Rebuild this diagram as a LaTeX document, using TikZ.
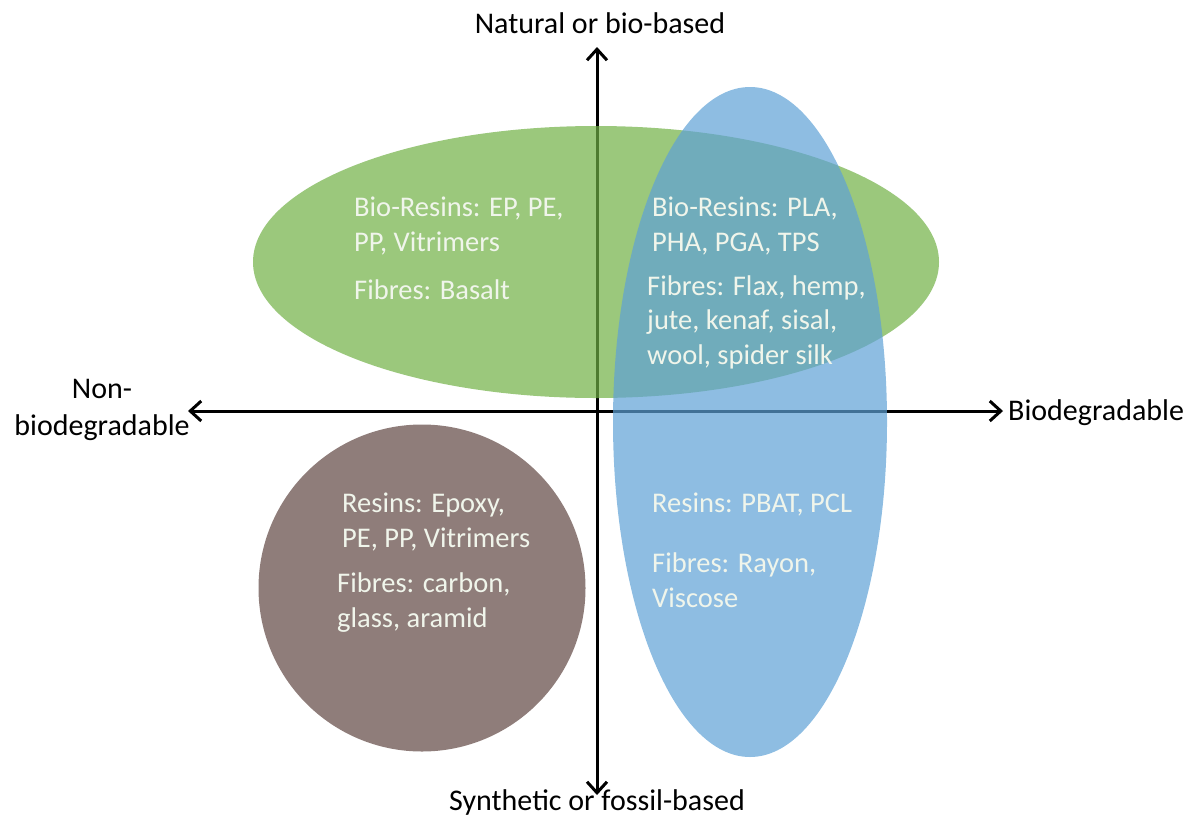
\documentclass[tikz,border=0pt]{standalone}
\usepackage{fontspec}
\setmainfont{Carlito}
\usetikzlibrary{arrows.meta, shapes.geometric}
\definecolor{biogreen}{RGB}{112,176,69}
\definecolor{degblue}{RGB}{94,161,214}
\definecolor{fossilbrown}{RGB}{143,125,122}
\definecolor{blobtext}{RGB}{240,245,235}

\begin{document}
\begin{tikzpicture}[x=1pt, y=-1pt,
    every node/.style={font=\fontsize{28.5}{34.5}\selectfont},
    axis/.style={{Straight Barb[length=11pt,width=20pt]}-{Straight Barb[length=11pt,width=20pt]}, line width=3pt},
    blob/.style={ellipse, draw=none, inner sep=0pt, fill opacity=0.7},
    inside/.style={anchor=base west, align=left, text=blobtext, inner sep=0pt},
    axislabel/.style={inner sep=0pt, text=black, font=\fontsize{30}{37}\selectfont}
]
\useasboundingbox (0,0) rectangle (1190,825);

% axes
\coordinate (north) at (597,47);
\coordinate (south) at (597,795);
\coordinate (west) at (188,411);
\coordinate (east) at (1003,411);
\draw[axis] (south) -- (north);
\draw[axis] (west) -- (east);

% regions
\node[blob, fill=biogreen, minimum width=686pt, minimum height=272pt] (natural) at (596,262) {};
\node[blob, fill=degblue, minimum width=274pt, minimum height=670pt] (biodeg) at (750,422) {};
\node[circle, fill=fossilbrown, draw=none, inner sep=0pt, minimum size=327pt] (fossil) at (422,588) {};

% axis labels (multi-line nodes sit on their last baseline)
\node[axislabel, anchor=base] (toplabel) at (600,33) {Natural or bio-based};
\node[axislabel, anchor=base] (bottomlabel) at (597,810) {Synthetic or fossil-based};
\node[axislabel, anchor=base west] (rightlabel) at (1008,420) {Biodegradable};
\node[axislabel, anchor=base, align=center] (leftlabel) at (102,435) {Non-\\biodegradable};

% texts in the regions
\node[inside] (bioresin) at (354,251) {Bio-Resins: EP, PE,\\PP, Vitrimers};
\node[inside] (basalt) at (354,299) {Fibres: Basalt};
\node[inside] (bioresindeg) at (652,251) {Bio-Resins: PLA,\\PHA, PGA, TPS};
\node[inside] (natfibre) at (647,364) {Fibres: Flax, hemp,\\jute, kenaf, sisal,\\wool, spider silk};
\node[inside] (resin) at (342,547) {Resins: Epoxy,\\PE, PP, Vitrimers};
\node[inside] (synfibre) at (337,627) {Fibres: carbon,\\glass, aramid};
\node[inside] (resindeg) at (652,512) {Resins: PBAT, PCL};
\node[inside] (rayon) at (652,607) {Fibres: Rayon,\\Viscose};

\end{tikzpicture}
\end{document}
